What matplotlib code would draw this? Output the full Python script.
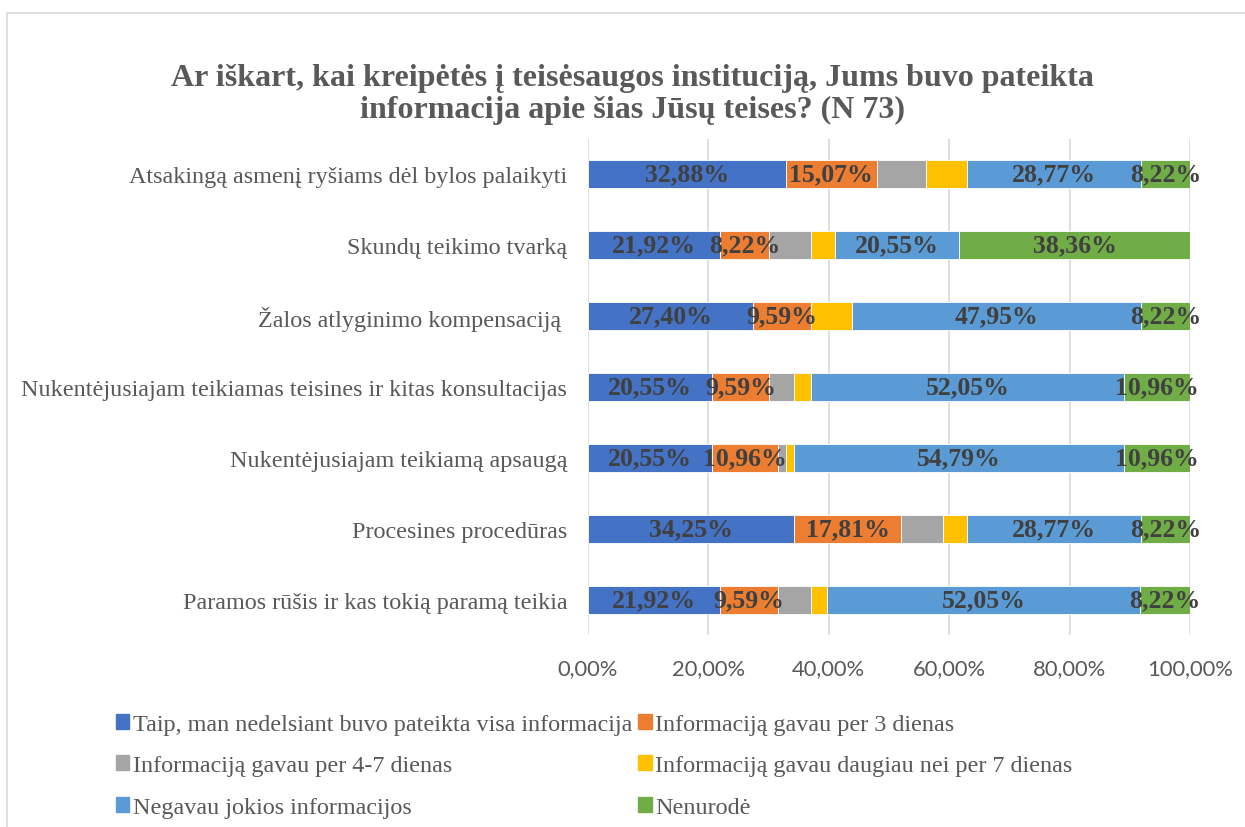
import numpy as np
import matplotlib.pyplot as plt
from matplotlib.patches import Rectangle, Patch
from matplotlib.ticker import FuncFormatter

categories = [
    "Atsakingą asmenį ryšiams dėl bylos palaikyti",
    "Skundų teikimo tvarką",
    "Žalos atlyginimo kompensaciją ",
    "Nukentėjusiajam teikiamas teisines ir kitas konsultacijas",
    "Nukentėjusiajam teikiamą apsaugą",
    "Procesines procedūras",
    "Paramos rūšis ir kas tokią paramą teikia",
]

series_names = [
    "Taip, man nedelsiant buvo pateikta visa informacija",
    "Informaciją gavau per 3 dienas",
    "Informaciją gavau per 4-7 dienas",
    "Informaciją gavau daugiau nei per 7 dienas",
    "Negavau jokios informacijos",
    "Nenurodė",
]

taip = [32.88, 21.92, 27.40, 20.55, 20.55, 34.25, 21.92]
per3 = [15.07, 8.22, 9.59, 9.59, 10.96, 17.81, 9.59]
per4_7 = [8.22, 6.85, 0.00, 4.11, 1.37, 6.85, 5.48]
daugiau7 = [6.85, 4.11, 6.85, 2.74, 1.37, 4.11, 2.74]
negavau = [28.77, 20.55, 47.95, 52.05, 54.79, 28.77, 52.05]
nenurode = [8.22, 38.36, 8.22, 10.96, 10.96, 8.22, 8.22]

series = [taip, per3, per4_7, daugiau7, negavau, nenurode]
colors = ["#4472C4", "#ED7D31", "#A5A5A5", "#FFC000", "#5B9BD5", "#70AD47"]
labelled = [True, True, False, False, True, True]

serif = ["Liberation Serif", "DejaVu Serif"]

fig = plt.figure(figsize=(12.45, 8.28), dpi=100)
ax = fig.add_axes([0.4723, 0.2313, 0.4835, 0.6002])

y = np.arange(len(categories))
left = np.zeros(len(categories))
for vals, col, lab in zip(series, colors, labelled):
    v = np.array(vals) / 100
    ax.barh(y, v, left=left, height=0.40, color=col, edgecolor="white", linewidth=0.6, zorder=3)
    if lab:
        for yi, (l, w) in enumerate(zip(left, v)):
            if w > 0:
                ax.text(l + w / 2, yi, f"{w*100:.2f}%".replace(".", ","),
                        ha="center", va="center", fontsize=18.5, fontweight="bold",
                        color="#404040", family=serif, zorder=4)
    left += v

ax.set_xlim(0, 1.0)
ax.set_ylim(len(categories) - 0.5, -0.5)
ax.set_yticks(y)
ax.set_yticklabels(categories, fontsize=17.4, color="#595959", family=serif)
ax.set_xticks(np.arange(0, 1.01, 0.2))
ax.xaxis.set_major_formatter(FuncFormatter(lambda x, p: f"{x*100:.2f}%".replace(".", ",")))
for t in ax.get_xticklabels():
    t.set_fontsize(15.8)
    t.set_color("#595959")
    t.set_family(["Lato", "DejaVu Sans"])
ax.tick_params(axis="x", length=0, pad=16)
ax.tick_params(axis="y", length=0, pad=15)
ax.grid(axis="x", color="#d9d9d9", linewidth=1.2, zorder=0)
for s in ax.spines.values():
    s.set_visible(False)

fig.text(0.508, 0.886, "Ar iškart, kai kreipėtės į teisėsaugos instituciją, Jums buvo pateikta\ninformacija apie šias Jūsų teises? (N 73)",
         ha="center", va="center", fontsize=23, fontweight="bold", color="#595959",
         family=serif, linespacing=1.12)

handles = [Patch(color=c) for c in colors]
order = [0, 2, 4, 1, 3, 5]
leg = fig.legend([handles[i] for i in order], [series_names[i] for i in order],
                 ncol=2, loc="upper left", bbox_to_anchor=(0.0755, 0.163),
                 frameon=False, prop={"family": serif, "size": 17.4},
                 handlelength=0.55, handleheight=0.55, handletextpad=0.16,
                 columnspacing=0.25, labelspacing=0.85, labelcolor="#595959")

fig.patches.append(Rectangle((7 / 1245, -0.05), 1.2, 1 - 14 / 828 + 0.05,
                             transform=fig.transFigure, fill=False,
                             edgecolor="#d9d9d9", linewidth=1.2))

fig.savefig("out.png", dpi=100, facecolor="white")
